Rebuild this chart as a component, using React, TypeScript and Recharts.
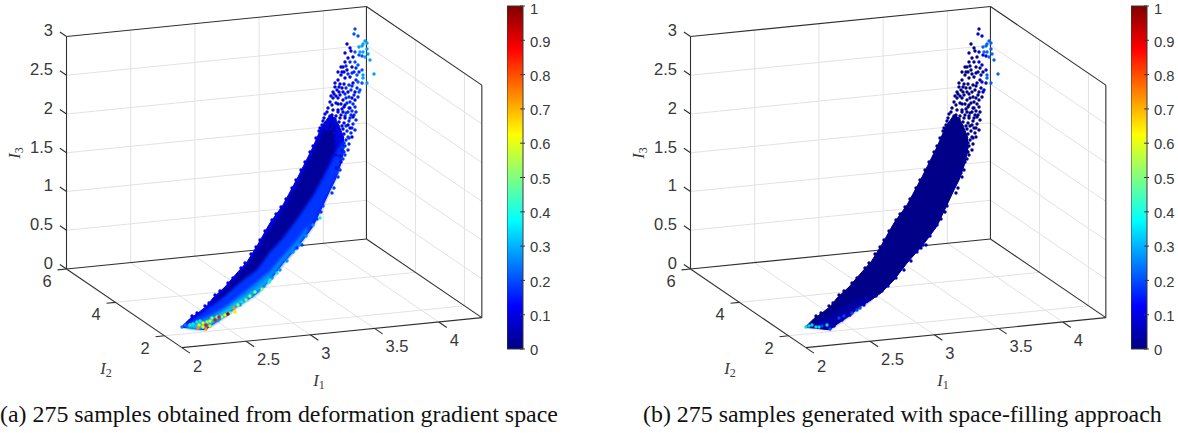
import React from 'react';
import { ComposedChart, BarChart, Area, Bar, Line, Scatter, XAxis, YAxis } from 'recharts';

// axis limits and ticks of the 3d box
const i1Limits = [2, 4.336];
const i2Limits = [1.29, 6];
const i3Limits = [0, 3];
const i1Ticks = [2, 2.5, 3, 3.5, 4];
const i2Ticks = [2, 4, 6];
const i3Ticks = [0, 0.5, 1, 1.5, 2, 2.5, 3];
const colorTicks = [0, 0.1, 0.2, 0.3, 0.4, 0.5, 0.6, 0.7, 0.8, 0.9, 1];

// sample cloud as it reads on the view plane: [x, upper edge, lower edge]
const cloudBand = [
  [182, 326.5, 327.5], [190, 318.5, 328], [198, 313, 329], [203, 309, 329.5], [206, 307, 329.5],
  [213, 298, 324], [225, 287, 316], [237, 273, 306], [247, 262, 300], [257, 246, 293],
  [270, 223, 280], [283, 205, 263], [290, 192, 255], [298, 177, 246], [305, 163, 237],
  [313, 147, 226], [322, 126, 207], [330, 115, 190], [335, 118, 180], [340, 128, 166],
  [344, 138, 150],
];
const royalBand = [
  [190, 322, 328], [203, 313, 329], [213, 305, 324], [225, 296, 316], [237, 285, 306],
  [247, 277, 300], [257, 270, 293], [270, 252, 280], [283, 238, 263], [298, 218, 246],
  [313, 196, 226], [322, 180, 207], [330, 165, 190], [337, 150, 175], [343, 140, 152],
];
const skyBand = [
  [186, 326, 327.5], [190, 324, 328], [203, 319, 329], [213, 314, 324], [225, 307, 316],
  [237, 298, 306], [247, 290, 300], [257, 282, 293], [270, 271, 280], [283, 256, 263],
  [298, 239, 246], [308, 226, 231],
];
const cyanBand = [
  [186, 326.5, 327.5], [190, 325.5, 328], [203, 323, 328], [213, 319, 323], [225, 311, 315],
  [237, 302, 306], [247, 296, 299], [257, 289, 292], [270, 277, 279],
];
const navyBand = [
  [213, 301, 307], [225, 289, 298], [237, 276, 292], [247, 265, 283], [257, 250, 272],
  [270, 228, 258], [283, 209, 242], [298, 182, 222], [313, 152, 198], [322, 132, 180],
  [330, 122, 162], [335, 124, 150],
];
const tipBand = [
  [186, 325, 327], [198, 320, 328], [206, 316, 329], [213, 311, 324], [225, 304, 316],
  [237, 299, 306], [247, 294, 300],
];

// single samples, top of the cloud
const topDeep = [
  [347, 44], [350, 48], [351, 51], [345, 53], [353, 57], [348, 58], [345, 62], [343, 67],
  [347, 70], [352, 67], [342, 72], [350, 77], [338, 80], [345, 78], [353, 83], [335, 87],
  [342, 88], [348, 92], [355, 92], [352, 98], [355, 100], [343, 100], [353, 117], [350, 128],
  [352, 137], [340, 95], [345, 105], [350, 108], [338, 110], [345, 118], [348, 125],
];
const topDense = [
  [341, 75], [344, 72], [340, 84], [344, 84], [337, 90], [333, 92], [339, 92], [338, 98],
  [333, 98], [330, 102], [336, 103], [341, 104], [328, 108], [333, 110], [342, 109], [325, 114],
  [330, 116], [336, 116], [341, 115], [323, 121], [328, 123], [334, 122], [339, 122], [344, 123],
  [320, 128], [326, 129], [331, 129], [337, 129], [343, 129], [341, 137], [338, 72], [341, 67],
  [335, 83], [339, 87], [343, 92], [334, 94], [331, 96], [336, 96], [332, 105], [338, 104],
  [344, 107], [327, 112], [332, 115], [338, 112], [343, 112], [324, 118], [329, 119], [335, 119],
  [340, 118], [322, 125], [328, 126], [333, 126], [338, 126], [342, 126], [334, 133], [339, 133],
  [344, 134], [336, 139], [340, 141], [338, 146], [342, 150], [340, 156], [336, 155], [341, 162],
  [336, 168],
];
const topDenseRight = [
  [348, 74], [352, 73], [356, 80], [349, 85], [345, 94], [351, 90], [346, 98], [347, 103],
  [353, 104], [348, 112], [352, 111], [346, 113], [350, 118], [349, 121], [353, 124], [356, 112],
  [347, 131], [351, 133], [346, 140], [349, 144], [344, 143], [346, 66], [350, 62], [356, 68],
  [354, 72], [359, 72], [346, 88], [352, 86], [357, 88], [349, 97], [354, 95], [358, 97],
  [350, 102], [355, 107], [349, 108], [354, 115], [345, 116], [351, 115], [356, 120], [346, 126],
  [352, 128], [355, 130], [349, 138], [345, 146], [348, 150], [344, 152],
];
const topBlue = [
  [355, 29], [354, 34], [358, 36], [362, 56], [359, 55], [355, 52], [362, 83], [358, 82],
  [362, 70], [357, 75], [360, 90], [359, 92], [358, 65], [355, 62],
];
const topAzure = [
  [365, 41], [367, 43], [363, 44], [362, 46], [359, 47], [367, 49], [360, 52], [363, 52],
  [368, 54], [370, 60], [374, 74], [367, 83], [363, 78], [363, 75], [365, 57],
];
// loose samples along the two long sides
const sideSpecks = [
  [348, 137], [343, 148], [345, 155], [343, 159], [338, 163], [340, 170], [333, 168], [337, 173],
  [332, 173], [338, 177], [333, 180], [330, 183], [334, 188], [328, 190], [332, 193], [323, 206],
  [321, 212], [317, 219], [310, 228], [302, 245], [297, 248],
];
const upperEdge = [
  [192, 316], [197, 313], [205, 306], [209, 303], [215, 295], [220, 291], [228, 283], [233, 278],
  [241, 268], [245, 263], [251, 254], [256, 247], [260, 240], [265, 231], [272, 220], [276, 214],
  [281, 207], [286, 199], [292, 188], [296, 180], [301, 170], [305, 162], [310, 152], [313, 146],
  [316, 138], [319, 131],
];
const lowerEdge = [
  [210, 326], [218, 320], [226, 315], [240, 305], [243, 301], [252, 296], [258, 291], [264, 286],
  [272, 278], [280, 270], [287, 261], [293, 252], [299, 245], [306, 236], [313, 225],
];

// samples at the low end, panel (a)
const tipRed = [[206, 325], [215, 320], [219, 317]];
const tipDarkRed = [[228, 314]];
const tipOrange = [[206, 329], [198, 328], [234, 308]];
const tipYellow = [[203, 327], [210, 326], [235, 312], [225, 315], [210, 321], [203, 323], [199, 325]];
const tipGreen = [
  [222, 317], [207, 322], [212, 318], [217, 317], [230, 313], [238, 305], [246, 300], [250, 296],
  [255, 292], [262, 289],
];
const tipCyan = [
  [270, 280], [277, 273], [269, 282], [242, 302], [190, 325], [193, 324], [197, 322], [200, 321],
  [320, 218],
];
const tipBlue = [[182, 327], [185, 325]];

// samples at the low end, panel (b)
const lowCyan = [[182, 327], [185, 326], [188, 325], [192, 327], [195, 327], [203, 325]];
const lowAzure = [[215, 318], [220, 316], [228, 313], [233, 310], [236, 308], [206, 329], [198, 326]];

const project = (i1: number, i2: number, i3: number) => ({
  x: 66.5 + (i1 - 2) * 128.4 + (6 - i2) * 24.5,
  y: 269 - (i1 - 2) * 12.84 + (6 - i2) * 16.7 - i3 * 77.5,
});

type P3 = [number, number, number];
const [a0, a1] = i1Limits;
const [b0, b1] = i2Limits;
const [c0, c1] = i3Limits;

const gridLines: P3[][] = [];
i1Ticks.filter(t => t > a0).forEach(t => {
  gridLines.push([[t, b1, c0], [t, b1, c1]]);
  gridLines.push([[t, b0, c0], [t, b1, c0]]);
});
i2Ticks.filter(t => t < b1).forEach(t => {
  gridLines.push([[a1, t, c0], [a1, t, c1]]);
  gridLines.push([[a0, t, c0], [a1, t, c0]]);
});
i3Ticks.filter(t => t > c0 && t < c1).forEach(t => {
  gridLines.push([[a0, b1, t], [a1, b1, t]]);
  gridLines.push([[a1, b0, t], [a1, b1, t]]);
});

const frameLines: P3[][] = [
  [[a0, b1, c0], [a0, b1, c1]],
  [[a0, b1, c1], [a1, b1, c1]],
  [[a1, b1, c1], [a1, b0, c1]],
  [[a1, b0, c1], [a1, b0, c0]],
  [[a1, b1, c0], [a1, b1, c1]],
  [[a0, b1, c0], [a1, b1, c0]],
  [[a1, b1, c0], [a1, b0, c0]],
  [[a0, b1, c0], [a0, b0, c0]],
  [[a0, b0, c0], [a1, b0, c0]],
];
i1Ticks.forEach(t => frameLines.push([[t, b0, c0], [t, b0 - 0.33, c0]]));
i2Ticks.forEach(t => frameLines.push([[a0, t, c0], [a0 - 0.07, t, c0]]));
i3Ticks.forEach(t => frameLines.push([[a0, b1, t], [a0, b1 + 0.27, t]]));

const toLine = (pts: P3[]) => pts.map(p => project(p[0], p[1], p[2]));
const toArea = (band: number[][]) => band.map(([x, upper, lower]) => ({ x, y: [upper, lower] }));
const toDots = (pts: number[][]) => pts.map(([x, y]) => ({ x, y }));

const tickLabels = [
  ...i1Ticks.map(t => {
    const p = project(t, b0, c0);
    return { x: p.x + 11, y: p.y + 18, text: String(t), anchor: 'start' };
  }),
  ...i2Ticks.map(t => {
    const p = project(a0, t, c0);
    return { x: p.x - 19.5, y: p.y + 12, text: String(t), anchor: 'middle' };
  }),
  ...i3Ticks.map(t => {
    const p = project(a0, b1, t);
    return { x: p.x - 13.5, y: p.y - 6, text: String(t), anchor: 'end' };
  }),
];

const axisNames = [
  { x: 319, y: 380, sub: '1', rotate: 0 },
  { x: 106, y: 368, sub: '2', rotate: 0 },
  { x: 14, y: 153, sub: '3', rotate: -90 },
];

const TickText = (props: any) => {
  const d = props.payload ?? props;
  return (
    <text x={props.cx} y={props.cy} dy="0.36em" textAnchor={d.anchor} fontFamily="Liberation Sans" fontSize={16.5} fill="#383838">
      {d.text}
    </text>
  );
};

const AxisName = (props: any) => {
  const d = props.payload ?? props;
  return (
    <text
      x={props.cx}
      y={props.cy}
      dy="0.35em"
      textAnchor="middle"
      fontFamily="Liberation Serif"
      fontSize={16.5}
      fill="#383838"
      transform={d.rotate ? `rotate(${d.rotate} ${props.cx} ${props.cy})` : undefined}
    >
      <tspan fontStyle="italic">I</tspan>
      <tspan dy={3} fontSize={12}>{d.sub}</tspan>
    </text>
  );
};

const dot = (r: number) => (props: any) => <circle cx={props.cx} cy={props.cy} r={r} fill={props.fill} />;

type Layer = { band: number[][]; fill: string; soft?: boolean };
type DotGroup = { pts: number[][]; fill: string };

const panelA: { layers: Layer[]; dots: DotGroup[] } = {
  layers: [
    { band: cloudBand, fill: '#0004e4' },
    { band: navyBand, fill: '#00009a', soft: true },
    { band: royalBand, fill: '#0034ff', soft: true },
    { band: skyBand, fill: '#0088ff', soft: true },
    { band: cyanBand, fill: '#10dce0', soft: true },
  ],
  dots: [
    { pts: topDense, fill: '#0008d8' },
    { pts: topDenseRight, fill: '#0028f4' },
    { pts: topDeep, fill: '#0000dc' },
    { pts: topBlue, fill: '#0050ff' },
    { pts: topAzure, fill: '#00a0ff' },
    { pts: upperEdge, fill: '#0000e8' },
    { pts: sideSpecks, fill: '#0038ff' },
    { pts: lowerEdge, fill: '#0090ff' },
    { pts: tipBlue, fill: '#0070ff' },
    { pts: tipCyan, fill: '#10e8d8' },
    { pts: tipGreen, fill: '#80ff70' },
    { pts: tipYellow, fill: '#f0f000' },
    { pts: tipOrange, fill: '#ff9000' },
    { pts: tipRed, fill: '#f01000' },
    { pts: tipDarkRed, fill: '#900000' },
  ],
};

const panelB: { layers: Layer[]; dots: DotGroup[] } = {
  layers: [
    { band: cloudBand, fill: '#000088' },
    { band: tipBand, fill: '#0000a8', soft: true },
  ],
  dots: [
    { pts: topDense, fill: '#000088' },
    { pts: topDenseRight, fill: '#00008c' },
    { pts: topDeep, fill: '#000088' },
    { pts: topBlue, fill: '#0000d8' },
    { pts: topAzure, fill: '#0060ff' },
    { pts: upperEdge, fill: '#000088' },
    { pts: sideSpecks, fill: '#00009c' },
    { pts: lowerEdge, fill: '#0000c4' },
    { pts: lowAzure, fill: '#0040ff' },
    { pts: lowCyan, fill: '#00d8f0' },
  ],
};

const ColorTick = (props: any) => {
  const { x, y, payload } = props;
  return (
    <g>
      <line x1={x - 5} x2={x} y1={y} y2={y} stroke="#383838" strokeWidth={1} />
      <text x={x + 5} y={y + (payload.value === 1 ? 1.5 : 0)} dy="0.42em" fontFamily="Liberation Sans" fontSize={14.8} fill="#383838">
        {payload.value}
      </text>
    </g>
  );
};

const plotProps = { width: 505, height: 433, margin: { top: 0, right: 0, bottom: 0, left: 0 } };

const Panel = ({ left, layers, dots }: { left: number; layers: Layer[]; dots: DotGroup[] }) => (
  <>
    <div style={{ position: 'absolute', left, top: 0 }}>
      <ComposedChart {...plotProps}>
        <XAxis type="number" dataKey="x" domain={[0, 505]} hide />
        <YAxis type="number" dataKey="y" domain={[0, 433]} reversed hide />
        {gridLines.map((l, i) => (
          <Line key={`g${i}`} data={toLine(l)} dataKey="y" stroke="#e2e2e2" strokeWidth={1} dot={false} activeDot={false} isAnimationActive={false} />
        ))}
        {frameLines.map((l, i) => (
          <Line key={`f${i}`} data={toLine(l)} dataKey="y" stroke="#303030" strokeWidth={1.1} dot={false} activeDot={false} isAnimationActive={false} />
        ))}
        <Scatter data={tickLabels} shape={TickText} isAnimationActive={false} />
        <Scatter data={axisNames} shape={AxisName} isAnimationActive={false} />
      </ComposedChart>
    </div>
    <div style={{ position: 'absolute', left, top: 0 }}>
      <ComposedChart {...plotProps}>
        <XAxis type="number" dataKey="x" domain={[0, 505]} hide />
        <YAxis type="number" dataKey="y" domain={[0, 433]} reversed hide />
        {layers.map((l, i) => (
          <Area
            key={`a${i}`}
            data={toArea(l.band)}
            dataKey="y"
            type="linear"
            fill={l.fill}
            fillOpacity={1}
            stroke={l.soft ? 'none' : l.fill}
            strokeWidth={1}
            dot={false}
            activeDot={false}
            style={l.soft ? { filter: 'blur(1.6px)' } : undefined}
            isAnimationActive={false}
          />
        ))}
        {dots.map((d, i) => (
          <Scatter key={`d${i}`} data={toDots(d.pts)} fill={d.fill} shape={dot(1.7)} isAnimationActive={false} />
        ))}
      </ComposedChart>
    </div>
    <div style={{ position: 'absolute', left: left + 507, top: 0 }}>
      <BarChart width={46} height={433} data={[{ name: 'jet', value: 1 }]} barCategoryGap={0} margin={{ top: 6, right: 0, bottom: 84, left: 0 }}>
        <defs>
          <linearGradient id={`jet${left}`} x1="0" y1="0" x2="0" y2="1">
            <stop offset="0" stopColor="#800000" />
            <stop offset="0.125" stopColor="#ff0000" />
            <stop offset="0.375" stopColor="#ffff00" />
            <stop offset="0.5" stopColor="#80ff80" />
            <stop offset="0.625" stopColor="#00ffff" />
            <stop offset="0.875" stopColor="#0000ff" />
            <stop offset="1" stopColor="#000080" />
          </linearGradient>
        </defs>
        <XAxis dataKey="name" hide />
        <YAxis orientation="right" width={30} domain={[0, 1]} ticks={colorTicks} tickLine={false} axisLine={false} tickSize={0} tick={ColorTick} interval={0} />
        <Bar dataKey="value" fill={`url(#jet${left})`} stroke="#383838" strokeWidth={1} isAnimationActive={false} />
      </BarChart>
    </div>
  </>
);

const captionStyle: React.CSSProperties = {
  position: 'absolute',
  top: 401,
  whiteSpace: 'nowrap',
  fontFamily: 'Liberation Serif',
  fontSize: 23.9,
  lineHeight: '26px',
  color: '#111',
};

export default function App() {
  return (
    <div style={{ position: 'absolute', left: 0, top: 0, width: 1178, height: 433, overflow: 'hidden', background: '#fff' }}>
      <Panel left={0} layers={panelA.layers} dots={panelA.dots} />
      <Panel left={624} layers={panelB.layers} dots={panelB.dots} />
      <div style={{ ...captionStyle, left: 0 }}>(a) 275 samples obtained from deformation gradient space</div>
      <div style={{ ...captionStyle, left: 643 }}>(b) 275 samples generated with space-filling approach</div>
    </div>
  );
}
